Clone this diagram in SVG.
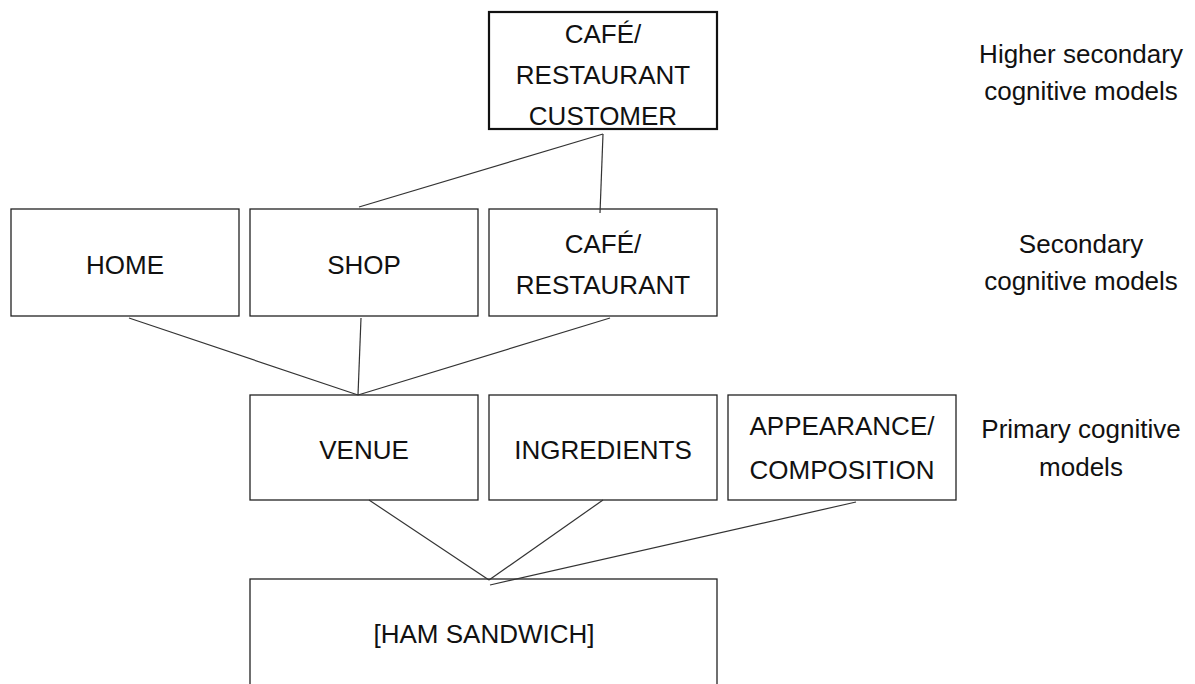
<svg xmlns="http://www.w3.org/2000/svg" width="1195" height="684" viewBox="0 0 1195 684">
<style>
.box{fill:#fff;stroke:#222;stroke-width:1.3}
.box2{fill:#fff;stroke:#111;stroke-width:2.2}
text{font-family:"Liberation Sans",Arial,sans-serif;font-size:26px;fill:#111;text-anchor:middle}
.con line{stroke:#333;stroke-width:1.2}
</style>
<rect width="1195" height="684" fill="#fff"/>
<g id="n-customer"><rect class="box2" x="489" y="12" width="228" height="117"/>
<text x="603" y="43">CAFÉ/</text><text x="603" y="84">RESTAURANT</text><text x="603" y="125">CUSTOMER</text></g>
<g id="n-home"><rect class="box" x="11" y="209" width="228" height="107"/><text x="125" y="274">HOME</text></g>
<g id="n-shop"><rect class="box" x="250" y="209" width="228" height="107"/><text x="364" y="274">SHOP</text></g>
<g id="n-cafe"><rect class="box" x="489" y="209" width="228" height="107"/><text x="603" y="253">CAFÉ/</text><text x="603" y="294">RESTAURANT</text></g>
<g id="n-venue"><rect class="box" x="250" y="395" width="228" height="105"/><text x="364" y="459">VENUE</text></g>
<g id="n-ingredients"><rect class="box" x="489" y="395" width="228" height="105"/><text x="603" y="459">INGREDIENTS</text></g>
<g id="n-appearance"><rect class="box" x="728" y="395" width="228" height="105"/><text x="842" y="435">APPEARANCE/</text><text x="842" y="479">COMPOSITION</text></g>
<g id="n-ham"><rect class="box" x="250" y="579" width="467" height="120"/><text x="484" y="643">[HAM SANDWICH]</text></g>
<g id="labels">
<text x="1081" y="63">Higher secondary</text><text x="1081" y="100">cognitive models</text>
<text x="1081" y="253">Secondary</text><text x="1081" y="290">cognitive models</text>
<text x="1081" y="438">Primary cognitive</text><text x="1081" y="476">models</text>
</g>
<g id="connectors" class="con">
<line x1="603" y1="134" x2="359" y2="207"/>
<line x1="603" y1="134" x2="600" y2="213"/>
<line x1="129" y1="318" x2="358" y2="395"/>
<line x1="361" y1="318" x2="358" y2="395"/>
<line x1="610" y1="318" x2="358" y2="395"/>
<line x1="369" y1="500" x2="489" y2="580"/>
<line x1="603" y1="500" x2="489" y2="580"/>
<line x1="856" y1="502" x2="490" y2="585"/>
</g>
</svg>
